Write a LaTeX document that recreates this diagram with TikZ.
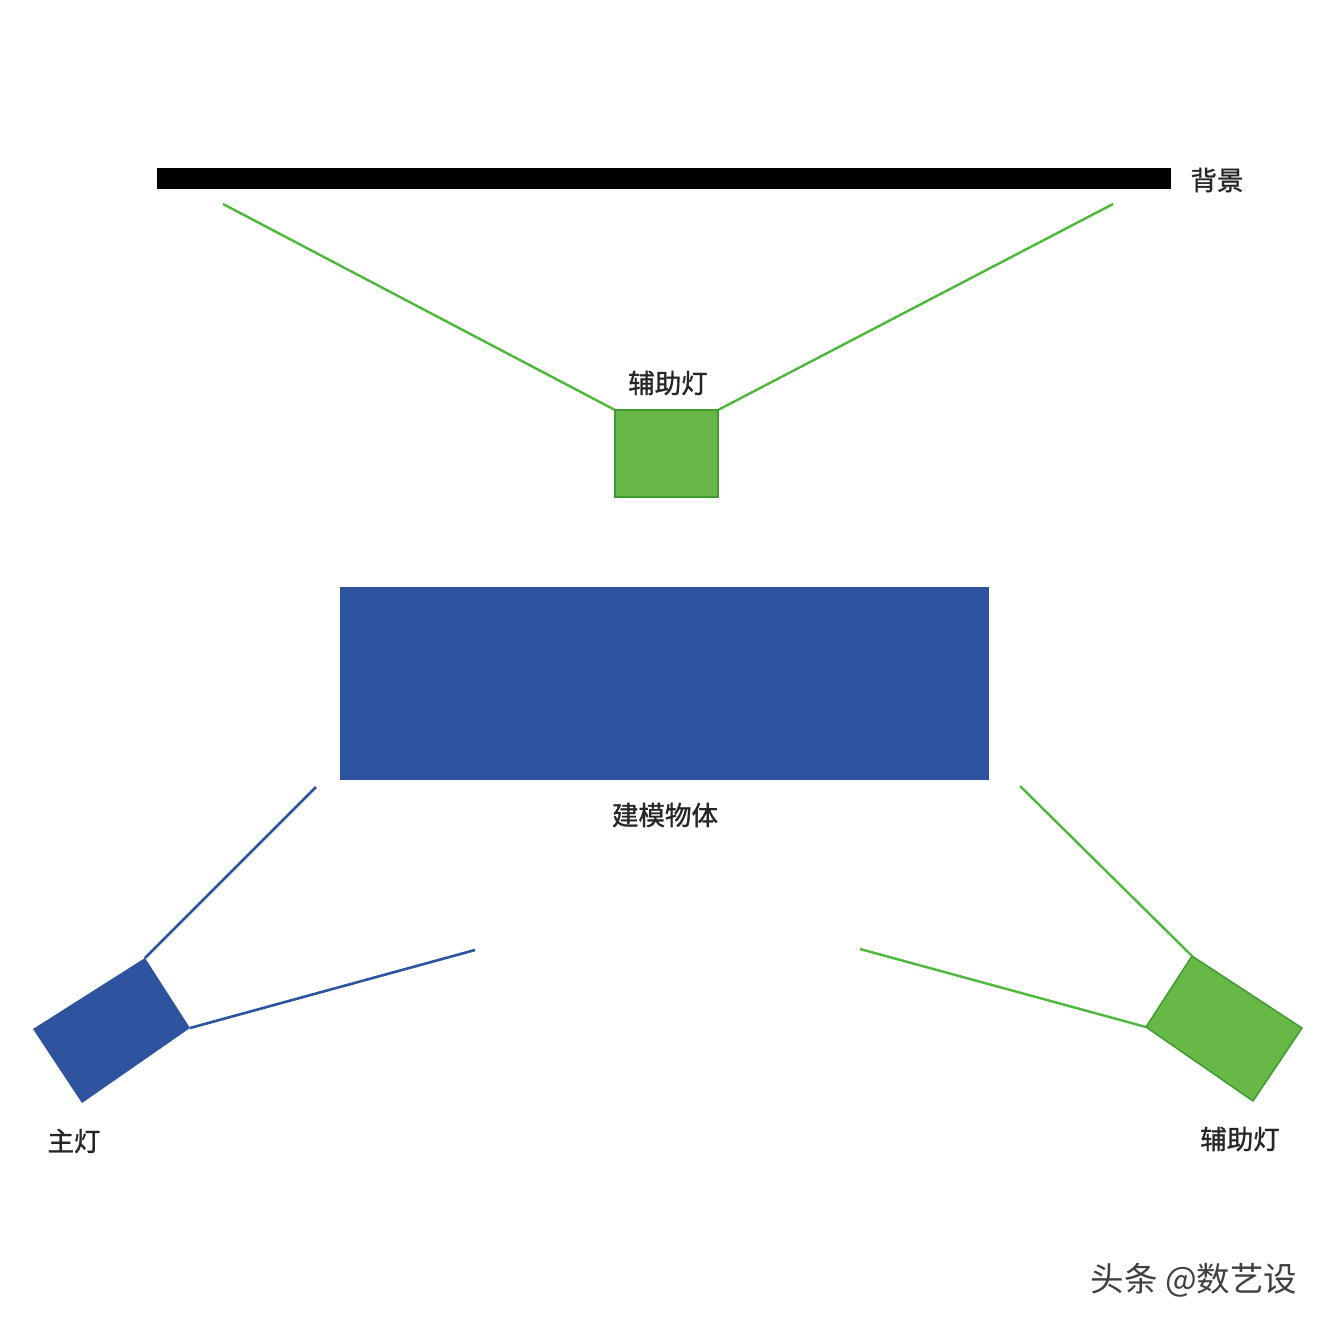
\documentclass[tikz,border=0pt]{standalone}
\usepackage{fontspec}
\newfontfamily\cjk{Noto Sans CJK SC}
\newfontfamily\cjkm{Noto Sans CJK SC}[FakeBold=1.2]
\definecolor{objblue}{HTML}{2E54A0}
\definecolor{litegreen}{HTML}{67B846}
\definecolor{edgegreen}{HTML}{3F9B32}
\definecolor{raygreen}{HTML}{4DB83C}
\begin{document}
\begin{tikzpicture}[x=1pt,y=-1pt,
  lbl/.style={font=\cjkm\fontsize{26.5}{30}\selectfont, text=black!85, inner sep=0pt},
  bluray/.style={draw=objblue, line width=2.6pt},
  grnray/.style={draw=raygreen, line width=2.4pt}]
\useasboundingbox (0,0) rectangle (1328,1328);
\fill[white] (0,0) rectangle (1328,1328);
% background bar
\fill[black] (157,168) rectangle (1171,189);
\node[lbl] (bg) at (1217,180) {背景};
% top fill light
\coordinate (tl) at (615,410);
\coordinate (tr) at (718,410);
\coordinate (ray1) at (223,204);
\coordinate (ray2) at (1113,204);
\draw[grnray] (tl) -- (ray1);
\draw[grnray] (tr) -- (ray2);
\draw[fill=litegreen, draw=edgegreen, line width=1.5pt] (tl) rectangle (718,497);
\node[lbl] (fill1) at (668,383) {辅助灯};
% object
\fill[objblue] (340,587) rectangle (989,780);
\node[lbl] (obj) at (665,815) {建模物体};
% key light
\coordinate (k1) at (145,958);
\coordinate (k2) at (190,1028);
\coordinate (k3) at (82,1103);
\coordinate (k4) at (33,1029);
\coordinate (kr1) at (316,787);
\coordinate (kr2) at (475,950);
\draw[bluray] (k1) -- (kr1);
\draw[bluray] (k2) -- (kr2);
\fill[objblue] (k1) -- (k2) -- (k3) -- (k4) -- cycle;
\node[lbl] (key) at (74,1141) {主灯};
% right fill light
\coordinate (f1) at (1192,956);
\coordinate (f2) at (1302,1028);
\coordinate (f3) at (1253,1101);
\coordinate (f4) at (1146,1027);
\coordinate (fr1) at (1020,786);
\coordinate (fr2) at (860,949);
\draw[grnray] (f1) -- (fr1);
\draw[grnray] (f4) -- (fr2);
\draw[fill=litegreen, draw=edgegreen, line width=1.5pt, line join=round] (f1) -- (f2) -- (f3) -- (f4) -- cycle;
\node[lbl] (fill2) at (1240,1139) {辅助灯};
% watermark
\node[font=\cjk\fontsize{33.5}{38}\selectfont, text=black!75, inner sep=0pt] (wm) at (1194,1280) {头条 @数艺设};
\end{tikzpicture}
\end{document}
